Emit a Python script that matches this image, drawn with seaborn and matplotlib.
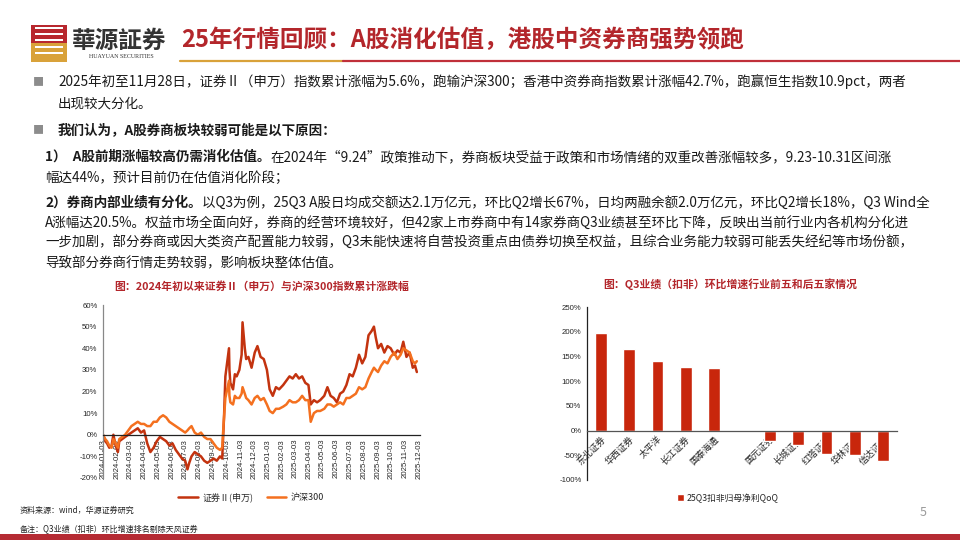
import numpy as np
import pandas as pd
import matplotlib
matplotlib.use("Agg")
import matplotlib.pyplot as plt
from matplotlib.patches import Rectangle, Patch
from matplotlib.lines import Line2D
from matplotlib.ticker import FuncFormatter, FixedLocator
import seaborn as sns

# cumulative change since 2024-01-03 (%)
dates = [
    "2024-01-03", "2024-01-08", "2024-01-12", "2024-01-17", "2024-01-22", "2024-01-26", "2024-01-31",
    "2024-02-05", "2024-02-08", "2024-02-21", "2024-02-28", "2024-03-06", "2024-03-13", "2024-03-20",
    "2024-03-27", "2024-04-03", "2024-04-10", "2024-04-17", "2024-04-24", "2024-05-01", "2024-05-08",
    "2024-05-15", "2024-05-22", "2024-05-29", "2024-06-05", "2024-06-12", "2024-06-19", "2024-06-26",
    "2024-07-03", "2024-07-08", "2024-07-12", "2024-07-17", "2024-07-24", "2024-07-31", "2024-08-07",
    "2024-08-14", "2024-08-21", "2024-08-28", "2024-09-04", "2024-09-11", "2024-09-18", "2024-09-23",
    "2024-09-24", "2024-09-27", "2024-09-30", "2024-10-08", "2024-10-09", "2024-10-11", "2024-10-17",
    "2024-10-21", "2024-10-25", "2024-10-31", "2024-11-05", "2024-11-07", "2024-11-12", "2024-11-15",
    "2024-11-20", "2024-11-27", "2024-12-04", "2024-12-10", "2024-12-17", "2024-12-24", "2024-12-31",
    "2025-01-06", "2025-01-13", "2025-01-20", "2025-01-27", "2025-02-05", "2025-02-12", "2025-02-19",
    "2025-02-26", "2025-03-05", "2025-03-12", "2025-03-19", "2025-03-26", "2025-04-02", "2025-04-07",
    "2025-04-14", "2025-04-21", "2025-04-28", "2025-05-07", "2025-05-14", "2025-05-21", "2025-05-28",
    "2025-06-04", "2025-06-11", "2025-06-18", "2025-06-25", "2025-07-02", "2025-07-09", "2025-07-16",
    "2025-07-23", "2025-07-30", "2025-08-06", "2025-08-13", "2025-08-20", "2025-08-25", "2025-08-29",
    "2025-09-03", "2025-09-10", "2025-09-17", "2025-09-24", "2025-10-01", "2025-10-09", "2025-10-16",
    "2025-10-23", "2025-10-29", "2025-11-05", "2025-11-12", "2025-11-19", "2025-11-24", "2025-11-28",
]
sec_ii = [
    0, -3, -4, -6, -5, 0, -5,
    -8, -3, -1, 0, 1, 2, 3,
    1, 2, -4, -8, -6, -3, -1,
    -2, -3, -5, -4, -7, -9, -11,
    -12, -16, -13, -10, -8, -9, -10,
    -12, -13, -12, -11, -12, -10, -11,
    -6, 8, 27, 40, 30, 24, 21,
    28, 27, 30, 37, 52, 40, 35,
    36, 31, 38, 41, 36, 35, 30,
    21, 18, 22, 21, 23, 25, 27,
    26, 28, 26, 27, 24, 23, 14,
    16, 15, 16, 18, 22, 18, 17,
    15, 19, 20, 23, 28, 27, 31,
    37, 33, 36, 46, 48, 50, 45,
    40, 42, 38, 41, 40, 37, 39,
    38, 43, 36, 38, 31, 32, 29,
]
hs300 = [
    0, -2, -3, -5, -6, -2, -4,
    -6, -2, 0, 2, 4, 5, 6,
    5, 5, 4, 4, 6, 6, 8,
    9, 8, 6, 5, 4, 3, 2,
    1, 2, 3, 4, 1, 0, 1,
    -1, -2, -2, -4, -6, -7, -6,
    -2, 8, 17, 25, 18, 15, 14,
    18, 17, 17, 19, 22, 19, 17,
    16, 14, 17, 18, 16, 17, 14,
    11, 10, 12, 12, 13, 14, 16,
    15, 15, 16, 18, 16, 16, 6,
    10, 11, 11, 12, 14, 14, 13,
    14, 15, 14, 17, 17, 18, 19,
    22, 21, 22, 26, 29, 31, 30,
    29, 32, 34, 33, 36, 38, 35,
    37, 40, 39, 38, 34, 33, 34,
]
series_names = ["证券Ⅱ(申万)", "沪深300"]

# Q3 deducted net profit QoQ (%), top five and bottom five brokers
broker_names = ["东北证券", "华西证券", "太平洋", "长江证券", "国泰海通", "",
                "国元证券", "长城证券", "红塔证券", "华林证券", "信达证券"]
qoq_values = [197, 166, 140, 128, 127, np.nan, -22, -30, -48, -50, -61]

RED_DARK = "#C3330F"
ORANGE = "#F4701F"
BAR_RED = "#C8260C"
TITLE_RED = "#B3262B"
GOLD = "#D9A23A"

sns.set_theme(style="white")
plt.rcParams["font.family"] = ["Noto Sans CJK SC", "DejaVu Sans"]
plt.rcParams["axes.unicode_minus"] = False

fig = plt.figure(figsize=(9.6, 5.4), dpi=100)


def px(x, y):
    return x / 960, 1 - y / 540


def mixed_line(x, y, parts, size=9.75, color="#1a1a1a"):
    renderer = fig.canvas.get_renderer()
    cur = x / 960
    for txt, weight in parts:
        t = fig.text(cur, 1 - y / 540, txt, fontsize=size, fontweight=weight,
                     color=color, va="center", ha="left")
        bb = t.get_window_extent(renderer=renderer)
        cur += bb.width / fig.bbox.width


# ---------- header ----------
fig.add_artist(Rectangle(px(31, 62), 36 / 960, 19 / 540, transform=fig.transFigure,
                         facecolor=GOLD, edgecolor="none"))
fig.add_artist(Rectangle(px(31, 43), 36 / 960, 18 / 540, transform=fig.transFigure,
                         facecolor="#B8282E", edgecolor="none"))
for yy in (29, 35, 41, 48, 54):
    fig.add_artist(Rectangle(px(35, yy), 28 / 960, 2 / 540, transform=fig.transFigure,
                             facecolor="white", edgecolor="none"))
fig.text(*px(72, 41), "華源証券", fontsize=17, fontweight="bold", color="#333333",
         va="center", ha="left", family=["Noto Sans CJK TC", "DejaVu Sans"])
fig.text(*px(121, 57), "HUAYUAN SECURITIES", fontsize=4.3, color="#333333",
         va="center", ha="center", family="Liberation Serif")
fig.text(*px(181, 40), "25年行情回顾：A股消化估值，港股中资券商强势领跑", fontsize=17,
         fontweight="bold", color=TITLE_RED, va="center", ha="left")
fig.add_artist(Line2D([180 / 960, 343 / 960], [1 - 60.7 / 540] * 2, transform=fig.transFigure,
                      color=GOLD, linewidth=1.6))
fig.add_artist(Line2D([343 / 960, 1.0], [1 - 60.7 / 540] * 2, transform=fig.transFigure,
                      color="#C0303A", linewidth=1.6))

# ---------- body text ----------
for yy in (82, 130):
    fig.text(*px(33, yy), "■", fontsize=8, color="#8c8c8c", va="center", ha="left")
mixed_line(58, 82, [("2025年初至11月28日，证券Ⅱ（申万）指数累计涨幅为5.6%，跑输沪深300；"
                     "香港中资券商指数累计涨幅42.7%，跑赢恒生指数10.9pct，两者", "normal")])
mixed_line(58, 103, [("出现较大分化。", "normal")])
mixed_line(58, 130, [("我们认为，A股券商板块较弱可能是以下原因：", "bold")])
mixed_line(45, 157, [("1）  A股前期涨幅较高仍需消化估值。", "bold"),
                     ("在2024年“9.24”政策推动下，券商板块受益于政策和市场情绪的双重改善涨幅较多，9.23-10.31区间涨", "normal")])
mixed_line(45, 178, [("幅达44%，预计目前仍在估值消化阶段；", "normal")])
mixed_line(45, 203, [("2）券商内部业绩有分化。", "bold"),
                     ("以Q3为例，25Q3 A股日均成交额达2.1万亿元，环比Q2增长67%，日均两融余额2.0万亿元，环比Q2增长18%，Q3 Wind全", "normal")])
mixed_line(45, 223, [("A涨幅达20.5%。权益市场全面向好，券商的经营环境较好，但42家上市券商中有14家券商Q3业绩甚至环比下降，反映出当前行业内各机构分化进", "normal")])
mixed_line(45, 243, [("一步加剧，部分券商或因大类资产配置能力较弱，Q3未能快速将自营投资重点由债券切换至权益，且综合业务能力较弱可能丢失经纪等市场份额，", "normal")])
mixed_line(45, 263, [("导致部分券商行情走势较弱，影响板块整体估值。", "normal")])

# ---------- line chart ----------
ax1 = fig.add_axes([103 / 960, 1 - 478 / 540, 317 / 960, 173 / 540])
df = pd.DataFrame({"date": pd.to_datetime(dates), series_names[0]: sec_ii, series_names[1]: hs300})
long_df = df.melt(id_vars="date", var_name="series", value_name="value")
sns.lineplot(data=long_df, x="date", y="value", hue="series", hue_order=series_names,
             palette=[RED_DARK, ORANGE], linewidth=1.8, ax=ax1, legend=False)
# spine position first: moving it rebuilds the ticks
ax1.spines["bottom"].set_position(("data", 0))
ax1.spines["right"].set_visible(False)
ax1.spines["top"].set_visible(False)
ax1.spines["left"].set_color("#888888")
ax1.spines["bottom"].set_color("#222222")
ax1.spines["left"].set_linewidth(0.9)
ax1.spines["bottom"].set_linewidth(0.9)
tick_dates = pd.date_range("2024-01-01", "2025-12-01", freq="MS") + pd.Timedelta(days=2)
ax1.set_xlim(pd.Timestamp("2024-01-03"), pd.Timestamp("2025-12-05"))
ax1.set_ylim(-20, 60)
ax1.xaxis.set_major_locator(FixedLocator(matplotlib.dates.date2num(tick_dates)))
ax1.set_xticklabels([d.strftime("%Y-%m-%d") for d in tick_dates], rotation=90,
                    fontsize=5.6, family="Liberation Sans")
ax1.set_yticks(range(-20, 61, 10))
ax1.yaxis.set_major_formatter(FuncFormatter(lambda v, p: f"{int(v)}%"))
ax1.tick_params(axis="y", labelsize=5.6, length=2, width=0.6, direction="out", pad=2)
ax1.tick_params(axis="x", length=2, width=0.6, direction="out", pad=1)
for lab in ax1.get_yticklabels():
    lab.set_family("Liberation Sans")
ax1.set_xlabel("")
ax1.set_ylabel("")
handles = [Line2D([0], [0], color=RED_DARK, lw=1.8), Line2D([0], [0], color=ORANGE, lw=1.8)]
ax1.legend(handles, series_names, loc="center", bbox_to_anchor=(0.467, -0.11), ncol=2,
           frameon=False, fontsize=6.5, handlelength=2.2, columnspacing=1.5, handletextpad=0.5)
fig.text(*px(262, 287), "图：2024年初以来证券Ⅱ（申万）与沪深300指数累计涨跌幅", fontsize=7.8,
         fontweight="bold", color=TITLE_RED, ha="center", va="center")

# ---------- bar chart ----------
ax2 = fig.add_axes([587 / 960, 1 - 480 / 540, 310 / 960, 173 / 540])
bar_df = pd.DataFrame({"broker": broker_names, "qoq": qoq_values})
sns.barplot(data=bar_df, x="broker", y="qoq", order=broker_names, color=BAR_RED,
            width=0.42, saturation=1, ax=ax2)
ax2.spines["bottom"].set_position(("data", 0))
ax2.spines["right"].set_visible(False)
ax2.spines["top"].set_visible(False)
ax2.spines["left"].set_color("#222222")
ax2.spines["bottom"].set_color("#555555")
ax2.spines["left"].set_linewidth(0.9)
ax2.spines["bottom"].set_linewidth(0.9)
ax2.set_xlim(-0.5, len(broker_names) - 0.5)
ax2.set_ylim(-100, 250)
ax2.set_yticks(range(-100, 251, 50))
ax2.yaxis.set_major_formatter(FuncFormatter(lambda v, p: f"{int(v)}%"))
ax2.tick_params(axis="y", labelsize=5.6, length=2, width=0.6, direction="out", pad=2)
for lab in ax2.get_yticklabels():
    lab.set_family("Liberation Sans")
ax2.set_xticks(range(len(broker_names)))
ax2.set_xticklabels(broker_names, rotation=45, ha="right", rotation_mode="anchor", fontsize=6.5)
ax2.tick_params(axis="x", which="major", length=0, pad=3)
ax2.xaxis.set_minor_locator(FixedLocator(np.arange(0.5, len(broker_names), 1.0)))
ax2.tick_params(axis="x", which="minor", length=2.5, width=0.6, direction="out")
ax2.set_xlabel("")
ax2.set_ylabel("")
ax2.legend([Patch(facecolor=BAR_RED)], ["25Q3扣非归母净利QoQ"], loc="center",
           bbox_to_anchor=(0.455, -0.104), frameon=False, fontsize=6.3,
           handlelength=0.8, handleheight=0.8, handletextpad=0.3)
fig.text(*px(730, 284), "图：Q3业绩（扣非）环比增速行业前五和后五家情况", fontsize=7.8,
         fontweight="bold", color=TITLE_RED, ha="center", va="center")

# ---------- footer ----------
fig.text(*px(20, 510), "资料来源：wind，华源证券研究", fontsize=5.8, color="#222222", va="center")
fig.text(*px(20, 530), "备注：Q3业绩（扣非）环比增速排名剔除天风证券", fontsize=5.8, color="#222222", va="center")
fig.text(*px(923, 512), "5", fontsize=9, color="#9a9a9a", ha="center", va="center")
fig.add_artist(Rectangle((0, 0), 1, 6 / 540, transform=fig.transFigure,
                         facecolor="#B52B33", edgecolor="none"))

fig.savefig("out.png", dpi=100)
